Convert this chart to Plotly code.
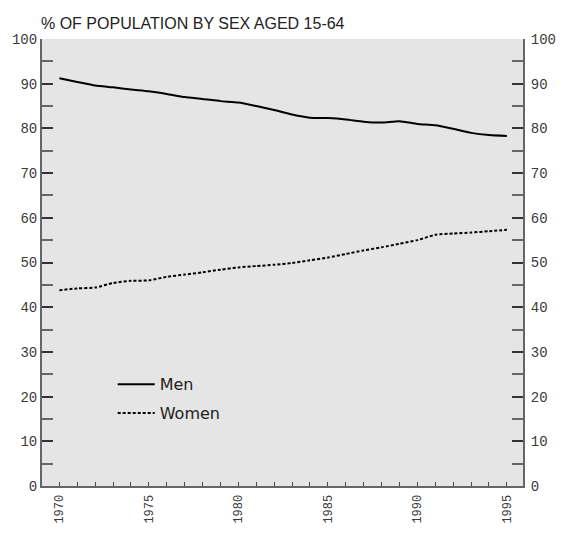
import plotly.graph_objects as go

years = list(range(1970, 1996))
men = [91.2, 90.4, 89.6, 89.2, 88.7, 88.3, 87.7, 87.0, 86.6, 86.1, 85.8, 85.0, 84.1,
       83.1, 82.4, 82.3, 82.0, 81.5, 81.3, 81.6, 81.0, 80.7, 79.9, 79.0, 78.5, 78.3]
women = [43.8, 44.2, 44.4, 45.4, 45.9, 46.0, 46.8, 47.3, 47.8, 48.4, 48.9, 49.2, 49.5,
         49.9, 50.5, 51.1, 51.9, 52.7, 53.4, 54.2, 55.0, 56.2, 56.5, 56.7, 57.0, 57.3]
x_ticks = [1970, 1975, 1980, 1985, 1990, 1995]
y_ticks = list(range(0, 101, 10))

y_font = dict(family="Liberation Mono", size=14, color="#3a3a3a")
x_font = dict(family="Liberation Mono", size=12, color="#3a3a3a")

fig = go.Figure()
fig.add_trace(go.Scatter(x=years, y=men, mode="lines", name="Men",
                         line=dict(color="black", width=2, shape="spline", smoothing=0.6),
                         legendgroup="m"))
fig.add_trace(go.Scatter(x=years, y=women, mode="lines", name="Women",
                         line=dict(color="black", width=2, dash="3px,2px", shape="spline", smoothing=0.6),
                         legendgroup="w"))
fig.add_trace(go.Scatter(x=years, y=men, mode="lines", yaxis="y2", showlegend=False,
                         hoverinfo="skip", line=dict(color="rgba(0,0,0,0)")))

fig.update_layout(
    width=548, height=519,
    margin=dict(l=34, r=33, t=31, b=41),
    paper_bgcolor="white",
    plot_bgcolor="#e5e5e5",
    showlegend=True,
    legend=dict(x=0.147, y=0.2655, xanchor="left", yanchor="top", itemwidth=37,
                bgcolor="rgba(0,0,0,0)", font=dict(family="DejaVu Sans", size=16, color="#222"),
                tracegroupgap=5),
    xaxis=dict(range=[1969.03, 1995.9], tickvals=x_ticks, ticks="inside", ticklen=4, automargin=False,
               tickcolor="#444", tickwidth=1, tickangle=-90, tickfont=x_font, ticklabelstandoff=2,
               minor=dict(dtick=1, ticks="inside", ticklen=4, tickcolor="#444", tickwidth=1, showgrid=False),
               showgrid=False, zeroline=False, showline=True, linecolor="#666", linewidth=2),
    yaxis=dict(range=[0, 100], tickvals=y_ticks, ticks="inside", ticklen=11, tickcolor="#333",
               tickwidth=1.5, tickfont=y_font, automargin=False,
               minor=dict(dtick=5, ticks="inside", ticklen=11, tickcolor="#666", tickwidth=1.5, showgrid=False),
               showgrid=False, zeroline=False, showline=True, linecolor="#666", linewidth=2),
    yaxis2=dict(range=[0, 100], overlaying="y", side="right", tickvals=y_ticks, ticks="inside",
                ticklen=11, tickcolor="#333", tickwidth=1.5, tickfont=y_font, automargin=False,
                ticklabelstandoff=3,
                minor=dict(dtick=5, ticks="inside", ticklen=11, tickcolor="#666", tickwidth=1.5, showgrid=False),
                showgrid=False, zeroline=False, showline=True, linecolor="#666", linewidth=2),
    annotations=[dict(text="% OF POPULATION BY SEX AGED 15-64", xref="paper", yref="paper",
                      x=-0.006, y=1.0, xanchor="left", yanchor="bottom", yshift=5, showarrow=False,
                      font=dict(family="Liberation Sans", size=16, color="#222"))],
)

fig.write_html("out.html")
